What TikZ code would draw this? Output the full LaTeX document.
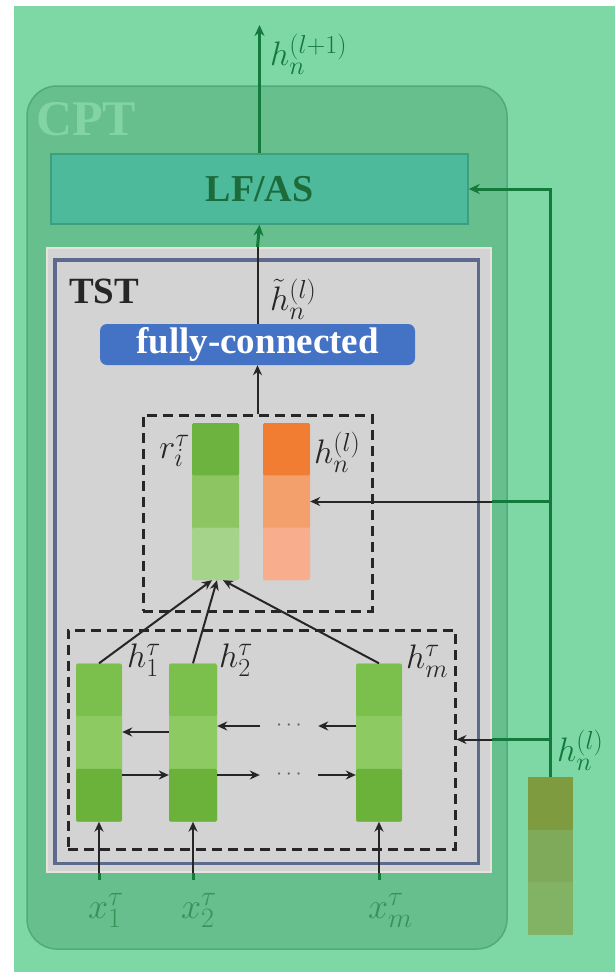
\RequirePackage{fix-cm}
\documentclass[tikz,border=0pt]{standalone}
\usepackage{fontspec}
\setmainfont{Liberation Serif}
\usetikzlibrary{arrows.meta, calc}
\DeclareMathSizes{34}{34}{26}{20}
\DeclareMathSizes{36}{36}{28}{21}

\definecolor{bggreen}{HTML}{7ED8A6}
\definecolor{cptfill}{HTML}{66BF8C}
\definecolor{cptdraw}{HTML}{52AA7A}
\definecolor{cpttext}{HTML}{82D4A3}
\definecolor{lffill}{HTML}{4CBA9B}
\definecolor{lfdraw}{HTML}{3C9F80}
\definecolor{lftext}{HTML}{1D6B3B}
\definecolor{darkgreen}{HTML}{137A3C}
\definecolor{tstgray}{HTML}{D3D3D3}
\definecolor{tstedge}{HTML}{E6E2DC}
\definecolor{tstblue}{HTML}{5D6A8E}
\definecolor{fcblue}{HTML}{4472C4}
\definecolor{rtop}{HTML}{6DB33F}
\definecolor{rmid}{HTML}{8DC563}
\definecolor{rbot}{HTML}{A5D38A}
\definecolor{otop}{HTML}{F07D32}
\definecolor{omid}{HTML}{F4A06C}
\definecolor{obot}{HTML}{F8AE8C}
\definecolor{htop}{HTML}{7BBF4C}
\definecolor{hmid}{HTML}{8DCB62}
\definecolor{hbot}{HTML}{6BB23A}
\definecolor{ntop}{HTML}{7E9C3F}
\definecolor{nmid}{HTML}{7FAA5A}
\definecolor{nbot}{HTML}{82B264}
\definecolor{xgreen}{HTML}{35945A}

\begin{document}
\begin{tikzpicture}[x=1pt, y=-1pt,
  every node/.style={inner sep=0pt},
  bands/.style n args={3}{fill=#2, path picture={
    \fill[#1] (path picture bounding box.north west) rectangle ($(path picture bounding box.north east)!0.3333!(path picture bounding box.south east)$);
    \fill[#3] ($(path picture bounding box.north west)!0.6667!(path picture bounding box.south west)$) rectangle (path picture bounding box.south east);}},
  colbox/.style={minimum width=46, minimum height=158, rounded corners=1.5pt},
  dashbox/.style={draw=black!85, line width=3pt, dash pattern=on 10pt off 6pt},
  mlabel/.style={text=black!85, font=\fontsize{34}{36}\selectfont},
  glabel/.style={text=darkgreen, font=\fontsize{34}{36}\selectfont},
  xlabel/.style={text=xgreen, font=\fontsize{36}{38}\selectfont, anchor=north west, inner ysep=13pt},
  karrow/.style={draw=black!85, line width=2pt, -{Stealth[length=10pt, width=9pt]}},
  kline/.style={draw=black!85, line width=2pt},
  garrow/.style={draw=darkgreen, line width=3pt, -{Stealth[length=11pt, width=10pt]}},
  gline/.style={draw=darkgreen, line width=3pt}]

% background with white margin
\fill[white] (0,0) rectangle (615,972);
\fill[bggreen] (14,6) rectangle (615,972);

% CPT block
\node[fill=cptfill, draw=cptdraw, line width=1.5pt, rounded corners=30pt,
  minimum width=480, minimum height=863] (cpt) at (267,517.5) {};
\node[text=cpttext, font=\bfseries\fontsize{50}{52}\selectfont] (cptlbl) at (86,119.5) {CPT};
\node[fill=lffill, draw=lfdraw, line width=1.5pt, minimum width=417, minimum height=70,
  text=lftext, font=\bfseries\fontsize{38}{40}\selectfont] (lfas) at (259.5,189) {LF/AS};
\coordinate (out) at (259.5,25);
\node[glabel, anchor=west] (hout) at (270,54) {$h_n^{(l+1)}$};

% TST panel
\node[fill=tstgray, draw=tstedge, line width=2pt, minimum width=444, minimum height=624] (tst) at (269,560) {};
\node[draw=tstblue, line width=3.5pt, minimum width=423.5, minimum height=603.5] (tstin) at (266.75,561.75) {};
\node[text=black!85, font=\bfseries\fontsize{37}{39}\selectfont] (tstlbl) at (104,291) {TST};
\node[mlabel, anchor=west] (htl) at (270,299) {$\tilde{h}_n^{(l)}$};
\node[fill=fcblue, rounded corners=7pt, minimum width=315, minimum height=41,
  text=white, font=\bfseries\fontsize{37}{39}\selectfont] (fc) at (257.5,344.5) {fully-connected};

% attention part
\node[dashbox, minimum width=229, minimum height=196] (att) at (257.5,513) {};
\node[colbox, minimum width=47, minimum height=157, bands={rtop}{rmid}{rbot}] (rcol) at (215.5,501.5) {};
\node[colbox, minimum width=47, minimum height=157, bands={otop}{omid}{obot}] (ocol) at (286.5,501.5) {};
\node[mlabel, anchor=east] (rlbl) at (190,451) {$r_i^\tau$};
\node[mlabel, anchor=west] (hnl) at (314,452) {$h_n^{(l)}$};

% recurrent part
\node[dashbox, minimum width=387, minimum height=219] (rnn) at (261.5,739.5) {};
\node[colbox, bands={htop}{hmid}{hbot}] (c1) at (99,742.5) {};
\node[colbox, minimum width=48, bands={htop}{hmid}{hbot}] (c2) at (193,742.5) {};
\node[colbox, bands={htop}{hmid}{hbot}] (c3) at (379,742.5) {};
\node[mlabel, anchor=west] (h1) at (127,660) {$h_1^\tau$};
\node[mlabel, anchor=west] (h2) at (219,660) {$h_2^\tau$};
\node[mlabel, anchor=west] (hm) at (406,661) {$h_m^\tau$};
\node[text=black!60, minimum width=58, font=\fontsize{22}{24}\selectfont] (dotsb) at (289,726) {$\cdots$};
\node[text=black!60, minimum width=58, font=\fontsize{22}{24}\selectfont] (dotsf) at (289,775) {$\cdots$};
\node[xlabel] (x1) at (88,880) {$x_1^\tau$};
\node[xlabel] (x2) at (181,880) {$x_2^\tau$};
\node[xlabel] (xm) at (368,880) {$x_m^\tau$};

% node embedding outside
\node[minimum width=45, minimum height=158, bands={ntop}{nmid}{nbot}] (hcol) at (550.5,856) {};
\node[glabel, anchor=west] (hnr) at (557,750) {$h_n^{(l)}$};

% connectors
\draw[garrow] (lfas) -- (out);
\draw[garrow] (tst.north -| fc.north) -- (lfas.south);
\draw[kline] (fc.north) -- (tst.north -| fc.north);
\draw[karrow] (att.north) -- (fc.south);
\draw[karrow] (c1.north) -- ([xshift=-3.5pt]rcol.south);
\draw[karrow] (c2.north) -- ([xshift=1.5pt]rcol.south);
\draw[karrow] (c3.north) -- ([xshift=7.5pt]rcol.south);
\draw[karrow] ([yshift=10.5pt]c2.west) -- ([yshift=10.5pt]c1.east);
\draw[karrow] ([yshift=16.5pt]c3.west) -- (dotsb);
\draw[karrow] (dotsb) -- ([yshift=16.5pt]c2.east);
\draw[karrow] ([yshift=-32.5pt]c1.east) -- ([yshift=-32.5pt]c2.west);
\draw[karrow] ([yshift=-32.5pt]c2.east) -- (dotsf);
\draw[karrow] (dotsf) -- ([yshift=-32.5pt]c3.west);
\foreach \i/\c in {x1/c1, x2/c2, xm/c3} {
  \draw[gline] (\i.north -| \c.south) -- (tst.south -| \c.south);
  \draw[karrow] (tst.south -| \c.south) -- (\c.south);
}
\draw[garrow] (hcol.north) |- (lfas.east);
\draw[gline] (hcol.north |- ocol.east) -- (tst.east |- ocol.east);
\draw[karrow] (tst.east |- ocol.east) -- (ocol.east);
\draw[gline] (hcol.north |- rnn.east) -- (tst.east |- rnn.east);
\draw[karrow] (tst.east |- rnn.east) -- (rnn.east);
\end{tikzpicture}
\end{document}
